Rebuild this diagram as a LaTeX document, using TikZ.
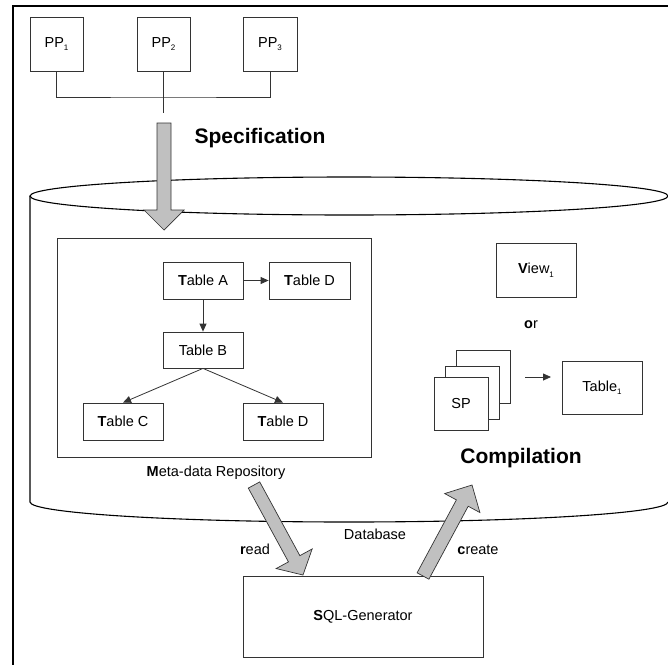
\documentclass[tikz,border=0pt]{standalone}
\usepackage{fontspec}
\setmainfont{Liberation Sans}
\usetikzlibrary{arrows.meta,calc}
\definecolor{arrowgray}{HTML}{C0C0C0}
\definecolor{linegray}{HTML}{333333}
\newcommand\lowsub[1]{\raisebox{-3.5pt}{\fontsize{8}{9}\selectfont #1}}
% #1 tail, #2 tip, #3 shaft half width, #4 head half width, #5 head length
\newcommand\fatarrow[5]{%
  \coordinate (fabase) at ($(#2)!#5!(#1)$);
  \filldraw[fill=arrowgray, draw=linegray, line width=0.7pt, line join=miter]
    ($(#1)!#3!90:(#2)$) -- ($(fabase)!#3!90:(#2)$) -- ($(fabase)!#4!90:(#2)$)
    -- (#2) -- ($(fabase)!#4!-90:(#2)$) -- ($(fabase)!#3!-90:(#2)$)
    -- ($(#1)!#3!-90:(#2)$) -- cycle;}
\begin{document}
\begin{tikzpicture}[x=1pt, y=-1pt,
  every node/.style={font=\fontsize{14.5}{16}\selectfont, inner sep=0pt},
  box/.style={draw=linegray, line width=0.8pt, fill=white, align=center},
  heading/.style={font=\fontsize{21}{24}\selectfont\bfseries},
  conn/.style={draw=linegray, line width=0.8pt},
  arr/.style={conn, -{Triangle[length=8pt,width=7pt]}},
  cyl/.style={draw=black, line width=1.1pt}]
\useasboundingbox (0,0) rectangle (668,664);
\clip (0,0) rectangle (668,664);

% frame
\draw[line width=2.5pt, line cap=rect] (668,6) -- (13,6) -- (13,670);

% database cylinder
\draw[cyl] (349,196) ellipse [x radius=319pt, y radius=19pt];
\draw[cyl] (30,196) -- (30,502)
  arc[start angle=180, end angle=360, x radius=319pt, y radius=20pt];

% PP boxes
\node[box, minimum width=53pt, minimum height=54pt] (pp1) at (56.5,44) {PP\lowsub{1}};
\node[box, minimum width=53pt, minimum height=54pt] (pp2) at (163.5,44) {PP\lowsub{2}};
\node[box, minimum width=54pt, minimum height=54pt] (pp3) at (270,44) {PP\lowsub{3}};
\coordinate (bus) at (163.5,97);
\coordinate (busend) at (163.5,113);
\draw[conn] (pp1.south) |- (bus) -| (pp3.south);
\draw[conn] (pp2.south) -- (busend);

% repository
\node[box, minimum width=314pt, minimum height=219pt] (repo) at (214,347.5) {};
\node[box, minimum width=80pt, minimum height=37pt] (ta) at (203,280.5) {\textbf{T}able A};
\node[box, minimum width=81pt, minimum height=37pt] (td1) at (309.5,280.5) {\textbf{T}able D};
\node[box, minimum width=80pt, minimum height=36pt] (tb) at (203,350) {Table B};
\node[box, minimum width=80pt, minimum height=37pt] (tc) at (123,421.5) {\textbf{T}able C};
\node[box, minimum width=80pt, minimum height=37pt] (td2) at (283,421.5) {\textbf{T}able D};
\draw[arr] (ta) -- (td1);
\draw[arr] (ta) -- (tb);
\draw[arr] (tb.south) -- (tc.north);
\draw[arr] (tb.south) -- (td2.north);
\node[anchor=base] (metalabel) at (216,476) {\textbf{M}eta-data Repository};

% compilation side
\node[box, minimum width=80pt, minimum height=54pt] (view) at (536,270) {\textbf{V}iew\lowsub{1}};
\node[anchor=base] (or) at (531,328) {\textbf{o}r};
\node[box, minimum width=54pt, minimum height=53pt] (spback) at (483,376.5) {};
\node[box, minimum width=54pt, minimum height=53pt] (spmid) at (472,392.5) {};
\node[box, minimum width=54pt, minimum height=53pt] (sp) at (461,403.5) {SP};
\node[box, minimum width=80pt, minimum height=53pt] (table1) at (602,387.5) {Table\lowsub{1}};
\coordinate (spastart) at (525,377);
\coordinate (spaend) at (551,377);
\draw[arr] (spastart) -- (spaend);
\node[heading, anchor=base] (compilation) at (521,463) {Compilation};
\node[heading, anchor=base] (specification) at (260,143) {Specification};
\node[anchor=base] (dblabel) at (375,539) {Database};

% SQL generator
\node[box, minimum width=240pt, minimum height=81pt] (sqlgen) at (363,616.5) {\textbf{S}QL-Generator};
\node[anchor=base] (readlabel) at (255,554) {\textbf{r}ead};
\node[anchor=base] (createlabel) at (478,554) {\textbf{c}reate};

% fat gray arrows
\coordinate (specTail) at (164,123);
\coordinate (specTip) at (164,230);
\fatarrow{specTail}{specTip}{7pt}{20pt}{20pt}
\coordinate (readTail) at (254,485);
\coordinate (readTip) at (303,575);
\fatarrow{readTail}{readTip}{6.5pt}{20.5pt}{18.5pt}
\coordinate (createTail) at (423,576);
\coordinate (createTip) at (472,485);
\fatarrow{createTail}{createTip}{6.7pt}{20pt}{20.5pt}
\end{tikzpicture}
\end{document}
